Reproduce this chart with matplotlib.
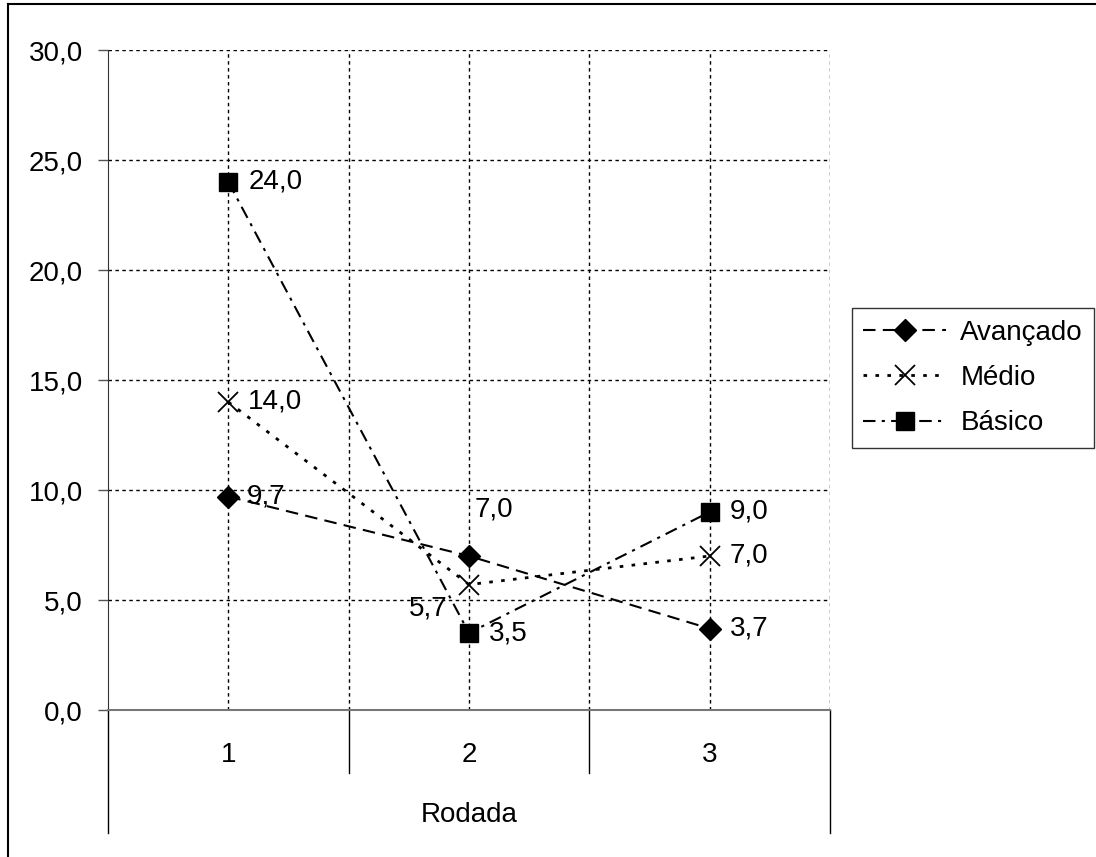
import matplotlib.pyplot as plt
from matplotlib.lines import Line2D
import matplotlib.transforms as mtransforms

plt.rcParams['font.family'] = ['Liberation Sans', 'DejaVu Sans']

rodadas = [1, 2, 3]
rodada_labels = ['1', '2', '3']
avancado = [9.7, 7.0, 3.7]
medio = [14.0, 5.7, 7.0]
basico = [24.0, 3.5, 9.0]

FS = 20

fig = plt.figure(figsize=(10.96, 8.57), dpi=100)
ax = fig.add_axes([108 / 1096, 1 - 710 / 857, 722 / 1096, 660 / 857])

ax.plot(rodadas, avancado, color='black', linestyle=(0, (6, 3.5)), linewidth=1.5,
        marker='D', markersize=11, label='Avançado')
ax.plot(rodadas, medio, color='black', linestyle=(0, (1.3, 3)), linewidth=2.0,
        marker='x', markersize=15, markeredgewidth=1.3, label='Médio')
ax.plot(rodadas, basico, color='black', linestyle=(0, (6, 3, 1.5, 3)), linewidth=1.5,
        marker='s', markersize=13, label='Básico')

# rótulos de dados (deslocamento em pixels)
offsets = {
    'av': [(18, 0), (6, 46), (20, 0)],
    'me': [(20, 0), (-22, -24), (20, 0)],
    'ba': [(20, 0), (20, 0), (20, 0)],
}
for key, serie in [('av', avancado), ('me', medio), ('ba', basico)]:
    for i, v in enumerate(serie):
        dx, dy = offsets[key][i]
        ha = 'right' if dx < 0 else 'left'
        ax.annotate(f'{v:.1f}'.replace('.', ','), (rodadas[i], v),
                    xytext=(dx, dy), textcoords='offset pixels',
                    ha=ha, va='center', fontsize=FS)

ax.set_xlim(0.5, 3.5)
ax.set_ylim(0, 30)
ax.set_yticks(range(0, 31, 5))
ax.set_yticklabels([f'{t:.1f}'.replace('.', ',') for t in range(0, 31, 5)], fontsize=FS)
ax.tick_params(axis='y', length=7, width=1, color='#555555', pad=11)
ax.set_xticks([1, 1.5, 2, 2.5, 3, 3.5])
ax.set_xticklabels([])
ax.tick_params(axis='x', length=0)
ax.grid(True, color='black', linestyle=(0, (2.5, 2.5)), linewidth=1.0)
for s in ['top', 'right']:
    ax.spines[s].set_visible(False)
ax.spines['left'].set_color('#333333')
ax.spines['bottom'].set_color('#777777')
ax.spines['bottom'].set_linewidth(1.5)

# eixo de categorias em dois níveis
trans = mtransforms.blended_transform_factory(ax.transData, ax.transAxes)
for xb in [1.5, 2.5]:
    ax.plot([xb, xb], [0, -0.0955], transform=trans, color='black', linewidth=1, clip_on=False)
for xb in [0.5, 3.5]:
    ax.plot([xb, xb], [0, -0.186], transform=trans, color='black', linewidth=1, clip_on=False)
for x, lab in zip(rodadas, rodada_labels):
    ax.text(x, -0.068, lab, transform=trans, ha='center', va='center', fontsize=FS)
ax.text(2, -0.159, 'Rodada', transform=trans, ha='center', va='center', fontsize=FS)

leg = ax.legend(loc='center left', bbox_to_anchor=(852 / 1096, 1 - 378 / 857),
                bbox_transform=fig.transFigure, fontsize=FS, frameon=True, fancybox=False,
                handlelength=3.0, handletextpad=0.5, borderpad=0.4, labelspacing=0.7,
                borderaxespad=0)
leg.get_frame().set_edgecolor('black')
leg.get_frame().set_linewidth(1)

# moldura da figura
fig.add_artist(Line2D([8 / 1096, 1], [1 - 4 / 857] * 2, color='black', linewidth=1.5,
                      transform=fig.transFigure))
fig.add_artist(Line2D([8 / 1096] * 2, [0, 1 - 4 / 857], color='black', linewidth=1.5,
                      transform=fig.transFigure))

fig.savefig('out.png', dpi=100)
